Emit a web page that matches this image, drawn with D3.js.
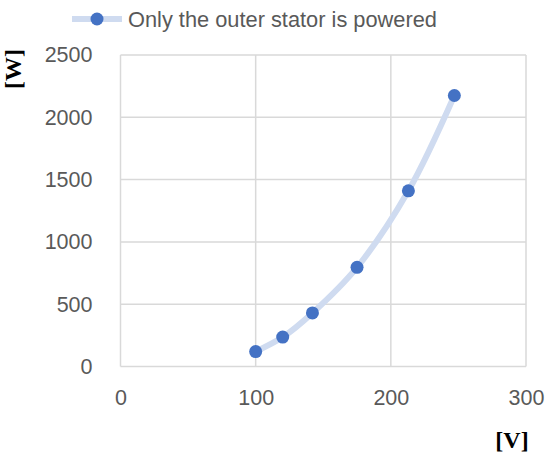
<!DOCTYPE html>
<html>
<head>
<meta charset="utf-8">
<script src="https://cdn.jsdelivr.net/npm/d3@7"></script>
<style>
  body { margin: 0; background: #fff; }
  text { font-family: "Liberation Sans", Arial, sans-serif; }
</style>
</head>
<body>
<svg id="chart" width="550" height="458"></svg>
<script>
"use strict";

// données
var seriesName = "Only the outer stator is powered";
var voltage = [100, 120, 142, 175, 213, 247];
var power = [120, 236, 430, 796, 1410, 2175];
var xTicks = [0, 100, 200, 300];
var yTicks = [0, 500, 1000, 1500, 2000, 2500];

var svg = d3.select("#chart");
var margin = {left: 120.5, right: 24, top: 55, bottom: 91.5};
var width = 550 - margin.left - margin.right;
var height = 458 - margin.top - margin.bottom;

var x = d3.scaleLinear().domain([0, 300]).range([0, width]);
var y = d3.scaleLinear().domain([0, 2500]).range([height, 0]);

var g = svg.append("g")
  .attr("transform", "translate(" + margin.left + "," + margin.top + ")");

// grille
g.selectAll("line.hgrid")
  .data(yTicks)
  .enter()
  .append("line")
  .attr("class", "hgrid")
  .attr("x1", 0)
  .attr("x2", width)
  .attr("y1", function(d) { return y(d); })
  .attr("y2", function(d) { return y(d); })
  .attr("stroke", "#d9d9d9")
  .attr("stroke-width", 1.5);

g.selectAll("line.vgrid")
  .data(xTicks)
  .enter()
  .append("line")
  .attr("class", "vgrid")
  .attr("y1", 0)
  .attr("y2", height)
  .attr("x1", function(d) { return x(d); })
  .attr("x2", function(d) { return x(d); })
  .attr("stroke", "#d9d9d9")
  .attr("stroke-width", 1.5);

// étiquettes des axes
var xAxis = g.append("g")
  .attr("transform", "translate(0," + height + ")")
  .call(d3.axisBottom(x).tickValues(xTicks).tickFormat(d3.format("d")).tickSize(0).tickPadding(23));
var yAxis = g.append("g")
  .call(d3.axisLeft(y).tickValues(yTicks).tickFormat(d3.format("d")).tickSize(0).tickPadding(28));

[xAxis, yAxis].forEach(function(a) {
  a.select(".domain").remove();
  a.selectAll("text")
    .style("font-family", "'Liberation Sans', Arial, sans-serif")
    .style("font-size", "21.5px")
    .attr("fill", "#595959");
});

// courbe lissée
var points = voltage.map(function(v, i) { return [v, power[i]]; });
var line = d3.line()
  .x(function(d) { return x(d[0]); })
  .y(function(d) { return y(d[1]); })
  .curve(d3.curveCatmullRom);

g.append("path")
  .datum(points)
  .attr("d", line)
  .attr("fill", "none")
  .attr("stroke", "#cfdbf0")
  .attr("stroke-width", 6)
  .attr("stroke-linecap", "round");

g.selectAll("circle")
  .data(points)
  .enter()
  .append("circle")
  .attr("cx", function(d) { return x(d[0]); })
  .attr("cy", function(d) { return y(d[1]); })
  .attr("r", 6.5)
  .attr("fill", "#4472c4");

// légende
var legend = svg.append("g").attr("transform", "translate(72,19)");
legend.append("line")
  .attr("x1", 0).attr("x2", 50).attr("y1", 0).attr("y2", 0)
  .attr("stroke", "#cfdbf0").attr("stroke-width", 6);
legend.append("circle")
  .attr("cx", 25).attr("cy", 0).attr("r", 6.5)
  .attr("fill", "#4472c4");
legend.append("text")
  .attr("x", 56).attr("y", 8)
  .style("font-size", "21.8px")
  .attr("fill", "#595959")
  .text(seriesName);

// titres des axes
svg.append("text")
  .attr("transform", "translate(21,69) rotate(-90)")
  .attr("text-anchor", "middle")
  .style("font-family", "'Liberation Serif', 'Times New Roman', serif")
  .style("font-weight", "bold")
  .style("font-size", "24px")
  .attr("fill", "#000")
  .text("[W]");

svg.append("text")
  .attr("x", 512).attr("y", 448)
  .attr("text-anchor", "middle")
  .style("font-family", "'Liberation Serif', 'Times New Roman', serif")
  .style("font-weight", "bold")
  .style("font-size", "24px")
  .attr("fill", "#000")
  .text("[V]");
</script>
</body>
</html>
